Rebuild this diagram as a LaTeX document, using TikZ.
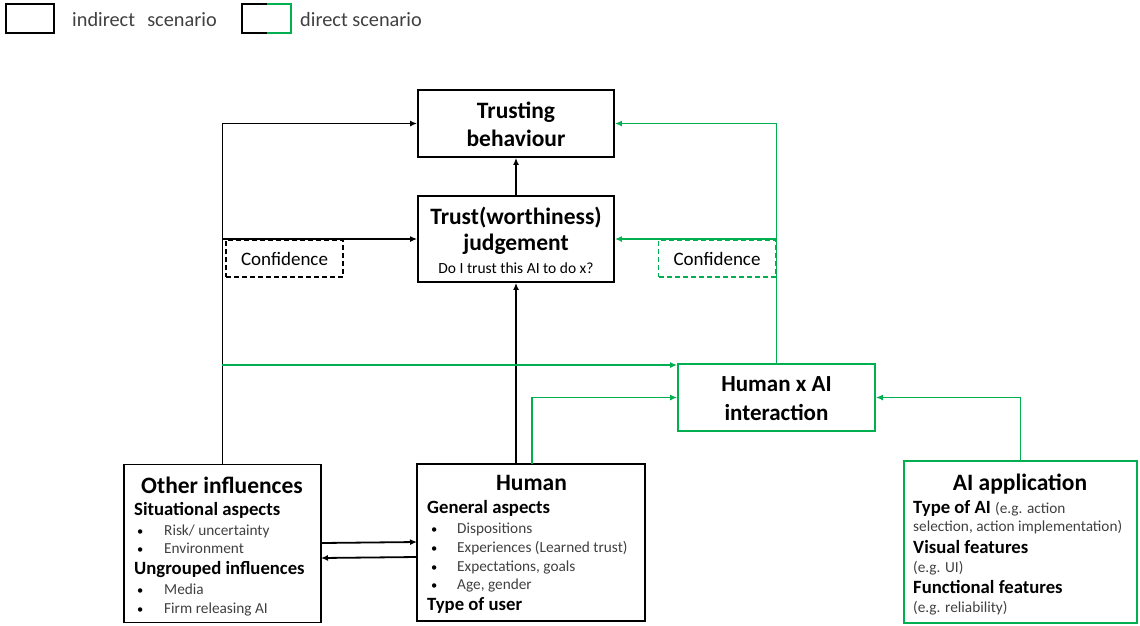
\documentclass[tikz,border=0pt]{standalone}
\usepackage{fontspec}
\setmainfont{Carlito}
\usetikzlibrary{arrows.meta,calc}
\definecolor{gr}{RGB}{0,176,80}
\definecolor{txt}{RGB}{64,64,64}
\newcommand{\bulA}{\makebox[27pt][l]{\color{black}\fontsize{12.5}{14}\selectfont•}}
\newcommand{\bulB}{\makebox[26pt][l]{\color{black}\fontsize{12.5}{14}\selectfont•}}
\begin{document}
\begin{tikzpicture}[x=1pt,y=-1pt,
 box/.style={draw,line width=1.8pt,inner sep=0pt},
 gbox/.style={box,draw=gr},
 dbox/.style={draw,dashed,dash pattern=on 5pt off 3pt,line width=1.5pt,inner sep=0pt,font=\fontsize{19}{22}\selectfont},
 arr/.style={line width=1.8pt,-{Latex[length=7pt,width=6pt]}},
 garr/.style={arr,color=gr},
 title/.style={font=\fontsize{23.5}{28}\selectfont\bfseries,align=center,inner sep=0pt},
 sub/.style={font=\fontsize{18.7}{22}\selectfont\bfseries,anchor=base west,inner sep=0pt},
 item/.style={font=\fontsize{15.3}{18}\selectfont,text=txt,anchor=base west,inner sep=0pt},
 legtext/.style={font=\fontsize{20.3}{24}\selectfont,text=txt,anchor=west,inner sep=0pt},
]
\useasboundingbox (0,0) rectangle (1140,625);

% legend
\node[box,line width=1.6pt,minimum width=48pt,minimum height=29pt] (l1) at (30,18.5) {};
\node[legtext] (l1t) at (72,20) {indirect\hspace{0.6em}scenario};
\node[inner sep=0pt,minimum width=49pt,minimum height=29pt] (l2) at (266.5,18.5) {};
\draw[line width=1.6pt] (l2.north) -- (l2.north west) -- (l2.south west) -- (l2.south);
\draw[line width=1.6pt,gr] (l2.north) -- (l2.north east) -- (l2.south east) -- (l2.south);
\node[legtext] (l2t) at (300,20) {direct scenario};

% boxes
\node[box,minimum width=196pt,minimum height=67pt] (tb) at (516,123.5) {};
\node[box,minimum width=196pt,minimum height=86pt] (tj) at (516,239) {};
\node[gbox,minimum width=197pt,minimum height=67pt] (hai) at (776.5,397.5) {};
\node[box,minimum width=197pt,minimum height=158pt] (oi) at (222.5,543.5) {};
\node[box,minimum width=228pt,minimum height=157pt] (hu) at (531,542.5) {};
\node[gbox,minimum width=233pt,minimum height=162pt] (ai) at (1020.5,542) {};

\node[dbox,minimum width=117pt,minimum height=37pt] (c1) at (284.5,258.5) {Confidence};
\node[dbox,draw=gr,minimum width=117pt,minimum height=37pt] (c2) at (717,258.5) {Confidence};

% titles
\node[title] (tbt) at (516,124) {Trusting\\behaviour};
\node[title,anchor=base] (tj1) at (516,224) {Trust(worthiness)};
\node[title,anchor=base] (tj2) at (516,250) {judgement};
\node[anchor=base,inner sep=0pt,font=\fontsize{15.5}{18}\selectfont] (tj3) at (516,273) {Do I trust this AI to do x?};
\node[title,font=\fontsize{23}{29}\selectfont\bfseries] (hait) at (776.5,398.5) {Human x AI\\interaction};

% other influences
\node[title,anchor=base] (oit) at (222,493) {Other influences};
\node[sub] (oi1) at (134,515) {Situational aspects};
\node[item] (oi2) at (137,535) {\bulA Risk/ uncertainty};
\node[item] (oi3) at (137,553) {\bulA Environment};
\node[sub] (oi4) at (134,574) {Ungrouped influences};
\node[item] (oi5) at (137,594) {\bulA Media};
\node[item] (oi6) at (137,613) {\bulA Firm releasing AI};

% human
\node[title,anchor=base] (hut) at (531.5,490) {Human};
\node[sub] (hu1) at (427,513) {General aspects};
\node[item] (hu2) at (431,533) {\bulB Dispositions};
\node[item] (hu3) at (431,552) {\bulB Experiences (Learned trust)};
\node[item] (hu4) at (431,571) {\bulB Expectations, goals};
\node[item] (hu5) at (431,589) {\bulB Age, gender};
\node[sub] (hu6) at (427,610) {Type of user};

% AI application
\node[title,anchor=base] (ait) at (1020,490) {AI application};
\node[sub] (ai1) at (913,513) {Type of AI {\fontsize{15.3}{18}\selectfont\mdseries\color{txt}(e.g. action}};
\node[item] (ai2) at (913,531) {selection, action implementation)};
\node[sub] (ai3) at (913,553) {Visual features};
\node[item] (ai4) at (913,572) {(e.g. UI)};
\node[sub] (ai5) at (913,593) {Functional features};
\node[item] (ai6) at (913,612) {(e.g. reliability)};

% connectors
\draw[arr] (tj.north) -- (tb.south);
\coordinate (hub) at (516,464);
\draw[arr] (hub) -- (hub |- tj.south);
\draw[arr] (oi.north) |- (tb.west);
\draw[arr] (oi.north) |- (tj.west);
\coordinate (o1) at (321,543);
\coordinate (h1) at (417,542);
\draw[arr] (o1) -- (h1);
\coordinate (h2) at (417,557);
\coordinate (o2) at (321,558);
\draw[arr] (h2) -- (o2);

\coordinate (g1) at (222,365);
\draw[garr] (g1) -- (g1 -| hai.west);
\coordinate (hug) at (532,464);
\draw[garr] (hug) |- (hai.west);
\draw[garr] (ai.north) |- (hai.east);
\draw[garr] (hai.north) |- (tb.east);
\draw[garr] (hai.north) |- (tj.east);
\end{tikzpicture}
\end{document}
